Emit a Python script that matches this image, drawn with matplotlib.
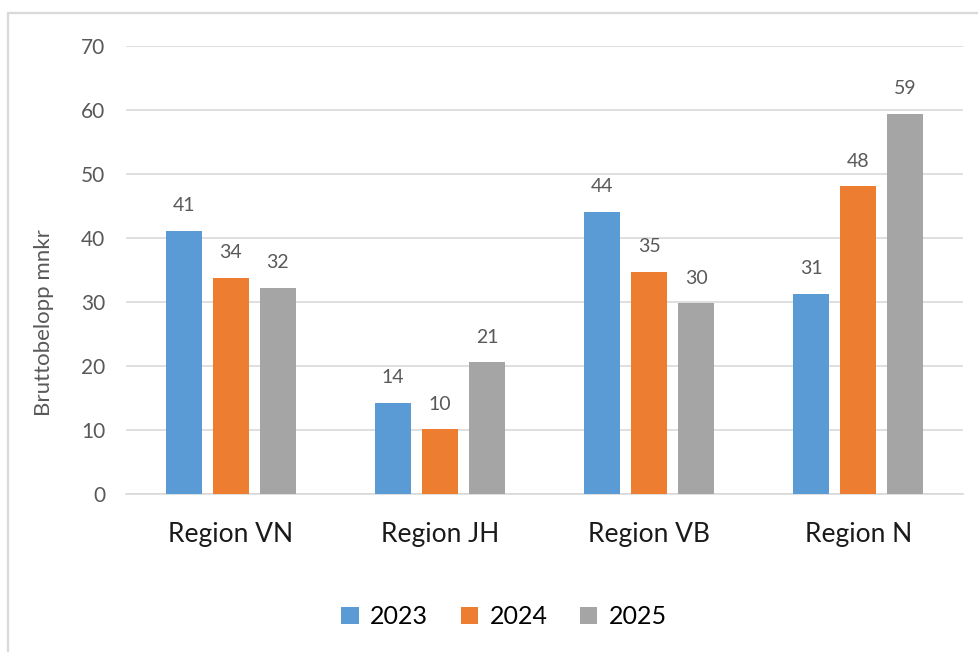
import numpy as np
import matplotlib.pyplot as plt
from matplotlib.patches import Rectangle

# Data
regions = ["Region VN", "Region JH", "Region VB", "Region N"]
years = ["2023", "2024", "2025"]
v2023 = [41.1, 14.2, 44.1, 31.3]
v2024 = [33.8, 10.1, 34.7, 48.1]
v2025 = [32.2, 20.6, 29.8, 59.4]
yticks = [0, 10, 20, 30, 40, 50, 60, 70]

colors = ["#5B9BD5", "#ED7D31", "#A5A5A5"]
series = [v2023, v2024, v2025]

plt.rcParams['font.family'] = ['Lato', 'DejaVu Sans']

fig = plt.figure(figsize=(9.79, 6.52), dpi=100)
ax = fig.add_axes([0.1287, 0.2423, 0.855, 0.6871])

# outer frame
fig.patches.append(Rectangle((8 / 979, -0.1), 1.2, 1 - 13 / 652 + 0.1,
                             transform=fig.transFigure, fill=False,
                             edgecolor="#d9d9d9", linewidth=1.6))

x = np.arange(len(regions))
w = 0.172
step = 0.225
for i, vals in enumerate(series):
    pos = x + (i - 1) * step
    bars = ax.bar(pos, vals, width=w, color=colors[i], label=years[i], zorder=3)
    for b, v in zip(bars, vals):
        ax.annotate(f"{round(v)}", (b.get_x() + b.get_width() / 2, v),
                    xytext=(0, 12), textcoords="offset points",
                    ha="center", va="bottom", fontsize=14, color="#595959")

ax.set_xlim(-0.5, 3.5)
ax.set_ylim(0, 70)
ax.set_yticks(yticks)
ax.yaxis.grid(True, color="#d9d9d9", linewidth=1.2, zorder=0)
ax.set_axisbelow(True)
for s in ["top", "right", "left"]:
    ax.spines[s].set_visible(False)
ax.spines["bottom"].set_color("#d9d9d9")
ax.spines["bottom"].set_linewidth(1.2)

ax.set_xticks(x)
ax.set_xticklabels(regions, fontsize=19, color="#1a1a1a")
ax.tick_params(axis="x", length=0, pad=20)
ax.tick_params(axis="y", length=0, pad=15, labelsize=15, labelcolor="#595959")

fig.text(44 / 979, 1 - 323 / 652, "Bruttobelopp mnkr", rotation=90,
         ha="center", va="center", fontsize=16, color="#595959")

fig.legend(loc="center", bbox_to_anchor=(0.515, 0.054), ncol=3, frameon=False,
           fontsize=18, handlelength=0.7, handleheight=0.7, handletextpad=0.45,
           columnspacing=1.3)

fig.savefig("out.png", dpi=100)
